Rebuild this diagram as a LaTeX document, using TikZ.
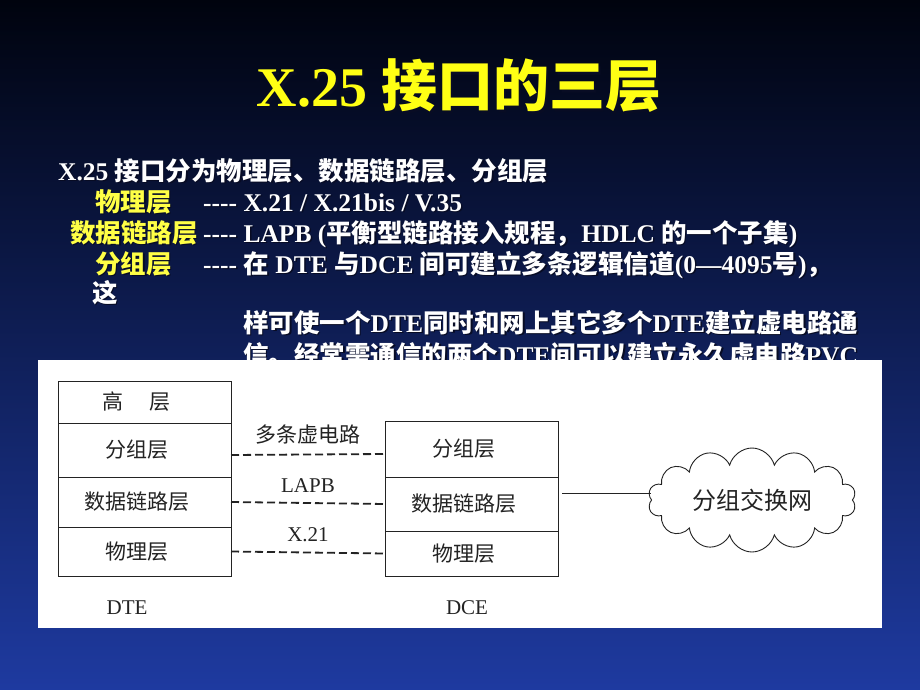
\documentclass[tikz,border=0pt]{standalone}
\usepackage{fontspec}
\setmainfont{Liberation Serif}[Ligatures=TeXOff]
\newfontfamily\cjk{Noto Sans CJK SC}
\usepackage{tikz}
\usetikzlibrary{positioning, shapes.symbols}

\definecolor{bgtop}{RGB}{0,3,14}
\definecolor{bgmid}{RGB}{22,46,134}
\definecolor{bgbot}{RGB}{30,58,160}
\definecolor{ttlyellow}{RGB}{255,255,20}
\definecolor{lblyellow}{RGB}{255,255,70}
\definecolor{shdw}{RGB}{8,12,36}
\definecolor{ink}{RGB}{35,35,35}

\newcommand{\cj}[1]{{\cjk #1}}
\newcommand{\shd}[2][1.5pt]{\makebox[0pt][l]{\kern#1\raisebox{-#1}{\color{shdw}#2}}#2}

\tikzset{
    bodytxt/.style={font=\fontsize{25.5}{30}\selectfont\bfseries, text=white, anchor=base west, inner sep=0pt},
    layer/.style={draw=ink, line width=0.9pt, minimum width=173pt, inner sep=0pt, outer sep=0pt,
        text=ink, font=\fontsize{21}{24}\selectfont\cjk, execute at end node={\kern16pt}},
    tag/.style={text=ink, font=\fontsize{21}{24}\selectfont, inner sep=0pt},
    vc/.style={draw=ink, line width=1.8pt, dash pattern=on 8pt off 4pt},
    link/.style={draw=ink, line width=0.9pt}
}

\begin{document}
\begin{tikzpicture}[x=1pt, y=-1pt]
    \useasboundingbox (0,0) rectangle (920,690);
    \shade[top color=bgtop, middle color=bgmid, bottom color=bgbot] (0,0) rectangle (920,690);

    % Title
    \node[font=\fontsize{56}{60}\selectfont\bfseries, text=ttlyellow] (title) at (459,87)
        {\shd[2.5pt]{X.25 \cj{接口的三层}}};

    % Body text lines
    \node[bodytxt] (l1) at (58,180) {\shd{X.25 \cj{接口分为物理层、数据链路层、分组层}}};
    \node[bodytxt, text=lblyellow] (phyname) at (95,211) {\shd{\cj{物理层}}};
    \node[bodytxt] (phytxt) at (203,211) {\shd{---- X.21 / X.21bis / V.35}};
    \node[bodytxt, text=lblyellow] (dlname) at (70,242) {\shd{\cj{数据链路层}}};
    \node[bodytxt] (dltxt) at (203,242) {\shd{---- LAPB (\cj{平衡型链路接入规程，}HDLC \cj{的一个子集})}};
    \node[bodytxt, text=lblyellow] (pkname) at (95,273) {\shd{\cj{分组层}}};
    \node[bodytxt] (pktxt) at (203,273) {\shd{---- \cj{在} DTE \cj{与}DCE \cj{间可建立多条逻辑信道}(0—4095\cj{号})\cj{，}}};
    \node[bodytxt] (l5) at (92,302) {\shd{\cj{这}}};
    \node[bodytxt] (l6) at (243,332) {\shd{\cj{样可使一个}DTE\cj{同时和网上其它多个}DTE\cj{建立虚电路通}}};
    \node[bodytxt] (l7) at (243,364) {\shd{\cj{信。经常需通信的两个}DTE\cj{间可以建立永久虚电路}PVC}};

    % White panel holding the figure
    \fill[white] (38,360) rectangle (882,628);

    % DTE stack
    \node[layer, minimum height=42pt, anchor=north west] (dtehi) at (58,381) {高\hspace{1.25em}层};
    \node[layer, minimum height=54pt, below=0pt of dtehi] (dtepk) {分组层};
    \node[layer, minimum height=50pt, below=0pt of dtepk] (dtedl) {数据链路层};
    \node[layer, minimum height=49pt, below=0pt of dtedl] (dteph) {物理层};

    % DCE stack
    \node[layer, minimum height=56pt, anchor=north west] (dcepk) at (385,421) {分组层};
    \node[layer, minimum height=54pt, below=0pt of dcepk] (dcedl) {数据链路层};
    \node[layer, minimum height=45pt, below=0pt of dcedl] (dceph) {物理层};

    \node[tag] (dtetag) at (127,608) {DTE};
    \node[tag] (dcetag) at (467,608) {DCE};

    % Dashed peer links
    \draw[vc] ([yshift=-5pt]dtepk.east) -- ([yshift=-5pt]dcepk.west)
        node[midway, above=9pt, tag, font=\fontsize{21}{24}\selectfont\cjk] {多条虚电路};
    \draw[vc] (dtedl.east) -- (dcedl.west) node[midway, above=10pt, tag] {LAPB};
    \draw[vc] (dteph.east) -- (dceph.west) node[midway, above=10pt, tag] {X.21};

    % Packet network cloud
    \node[cloud, draw=ink, line width=0.9pt, cloud puffs=14, aspect=2.8, minimum width=208pt,
        minimum height=104pt, inner sep=0pt, text=ink, font=\fontsize{24}{28}\selectfont\cjk]
        (pnet) at (752,500) {分组交换网};
    \coordinate (netin) at ([xshift=4pt, yshift=11pt]dcedl.east);
    \draw[link] (netin) -- (netin -| pnet.west);
\end{tikzpicture}
\end{document}
